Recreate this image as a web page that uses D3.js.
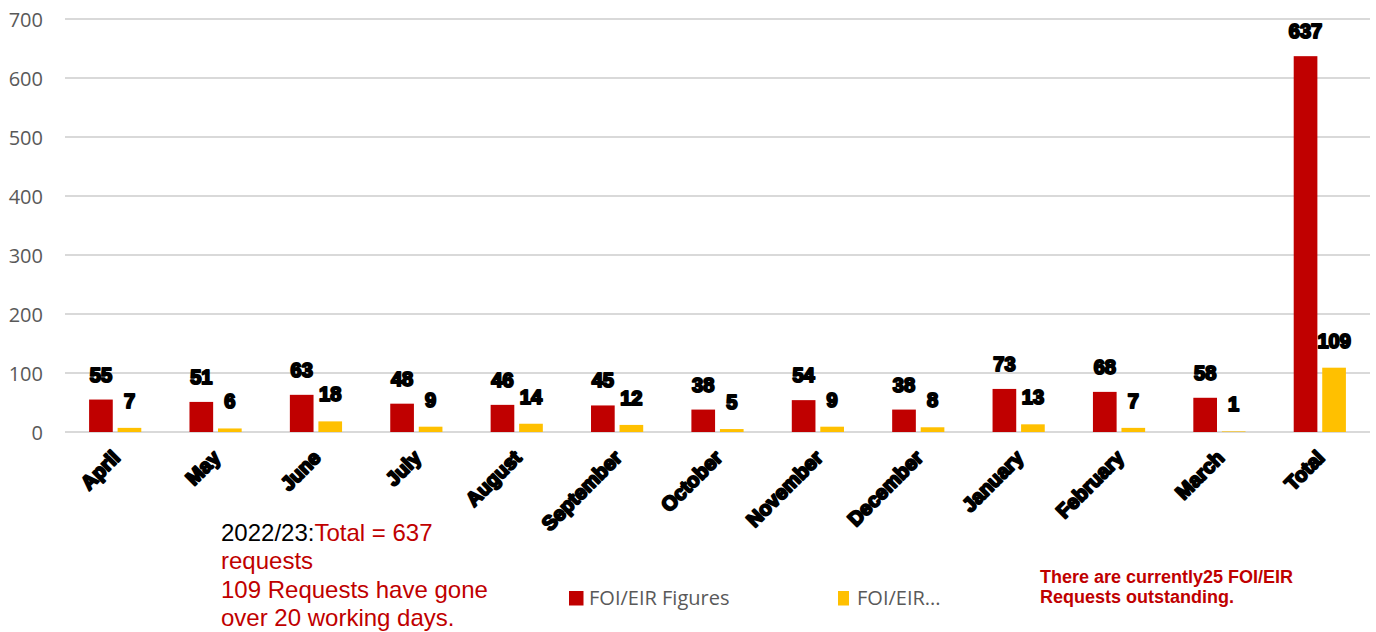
<!DOCTYPE html>
<html>
<head>
<meta charset="utf-8">
<script src="https://cdn.jsdelivr.net/npm/d3@7"></script>
<style>
  html, body { margin: 0; padding: 0; background: #fff; }
  svg { display: block; }
</style>
</head>
<body>
<svg id="chart" width="1376" height="632"></svg>
<script>
const categories = ["April","May","June","July","August","September","October","November","December","January","February","March","Total"];
const foiFigures = [55,51,63,48,46,45,38,54,38,73,68,58,637];
const foiOver20 = [7,6,18,9,14,12,5,9,8,13,7,1,109];
const seriesNames = ["FOI/EIR Figures","FOI/EIR..."];
const yTicks = [0,100,200,300,400,500,600,700];
const noteLines = [
  [{t:"2022/23:", c:"#000000"},{t:"Total = 637", c:"#c00000"}],
  [{t:"requests", c:"#c00000"}],
  [{t:"109 Requests have gone", c:"#c00000"}],
  [{t:"over 20 working days.", c:"#c00000"}]
];
const outstandingLines = ["There are currently25 FOI/EIR","Requests outstanding."];

const colors = ["#c00000","#ffc000"];
const svg = d3.select("#chart");

const x = d3.scaleBand().domain(categories).range([65,1370]).padding(0);
const bw = x.bandwidth();
const x1 = d3.scaleBand().domain([0,1]).range([bw*0.24, bw*0.76]).paddingInner(0.17);
const y = d3.scaleLinear().domain([0,700]).range([432,19]);

// gridlines
svg.append("g").selectAll("line").data(yTicks).join("line")
  .attr("x1",65).attr("x2",1370)
  .attr("y1",d=>y(d)).attr("y2",d=>y(d))
  .attr("stroke","#d9d9d9").attr("stroke-width",2);

// y axis labels
const yAxis = d3.axisLeft(y).tickValues(yTicks).tickSize(0).tickPadding(0);
const yg = svg.append("g").attr("transform","translate(43,0)").call(yAxis);
yg.select(".domain").remove();
yg.selectAll("text")
  .attr("font-family","'Open Sans', sans-serif")
  .attr("font-size",20).attr("fill","#595959").attr("dy","0.36em");

// bars
const data = categories.map((c,i)=>({c, v:[foiFigures[i], foiOver20[i]]}));
const groups = svg.append("g").selectAll("g").data(data).join("g")
  .attr("transform", d=>`translate(${x(d.c)},0)`);
groups.selectAll("rect").data(d=>d.v.map((v,k)=>({v,k}))).join("rect")
  .attr("x", d=>x1(d.k)).attr("width", x1.bandwidth())
  .attr("y", d=>y(d.v)).attr("height", d=>y(0)-y(d.v))
  .attr("fill", d=>colors[d.k]);

// value labels
groups.selectAll("text").data(d=>d.v.map((v,k)=>({v,k}))).join("text")
  .attr("x", d=>x1(d.k)+x1.bandwidth()/2)
  .attr("y", d=>y(d.v) - (d.k===0?18:20))
  .attr("text-anchor","middle")
  .attr("font-family","'Liberation Sans', Arial, sans-serif")
  .attr("font-weight","bold").attr("font-size",20)
  .attr("fill","#000").attr("stroke","#000").attr("stroke-width",2)
  .attr("stroke-linejoin","round")
  .text(d=>d.v);

// x axis labels
const xAxis = d3.axisBottom(x).tickSize(0).tickPadding(0);
const xg = svg.append("g").call(xAxis);
xg.select(".domain").remove();
xg.selectAll(".tick").attr("transform", d=>`translate(${x(d)+bw/2+6},459)`);
xg.selectAll(".tick text")
  .attr("x",0).attr("y",0).attr("dy",0)
  .attr("transform","rotate(-45)")
  .attr("text-anchor","end")
  .attr("font-family","'Liberation Sans', Arial, sans-serif")
  .attr("font-weight","bold").attr("font-size",20)
  .attr("fill","#000").attr("stroke","#000").attr("stroke-width",2)
  .attr("stroke-linejoin","round");

// note text
const note = svg.append("text")
  .attr("font-family","'Liberation Sans', Arial, sans-serif")
  .attr("font-size",24);
noteLines.forEach((line,i)=>{
  line.forEach((seg,j)=>{
    const ts = note.append("tspan").attr("fill",seg.c).text(seg.t);
    if(j===0) ts.attr("x",221).attr("y",541+i*28.3);
  });
});

// legend
const legX = [569, 838];
const legW = [14.5, 11];
seriesNames.forEach((n,i)=>{
  svg.append("rect").attr("x",legX[i]).attr("y",591).attr("width",legW[i]).attr("height",14.5).attr("fill",colors[i]);
  svg.append("text").attr("x",legX[i]+(i===0?20:19)).attr("y",604.5)
    .attr("font-family","'Open Sans', sans-serif").attr("font-size",20)
    .attr("fill","#595959").text(n);
});

// outstanding text
svg.append("g").selectAll("text").data(outstandingLines).join("text")
  .attr("x",1040).attr("y",(d,i)=>583+i*20)
  .attr("font-family","'Liberation Sans', Arial, sans-serif")
  .attr("font-weight","bold").attr("font-size",18)
  .attr("fill","#c00000").text(d=>d);
</script>
</body>
</html>
